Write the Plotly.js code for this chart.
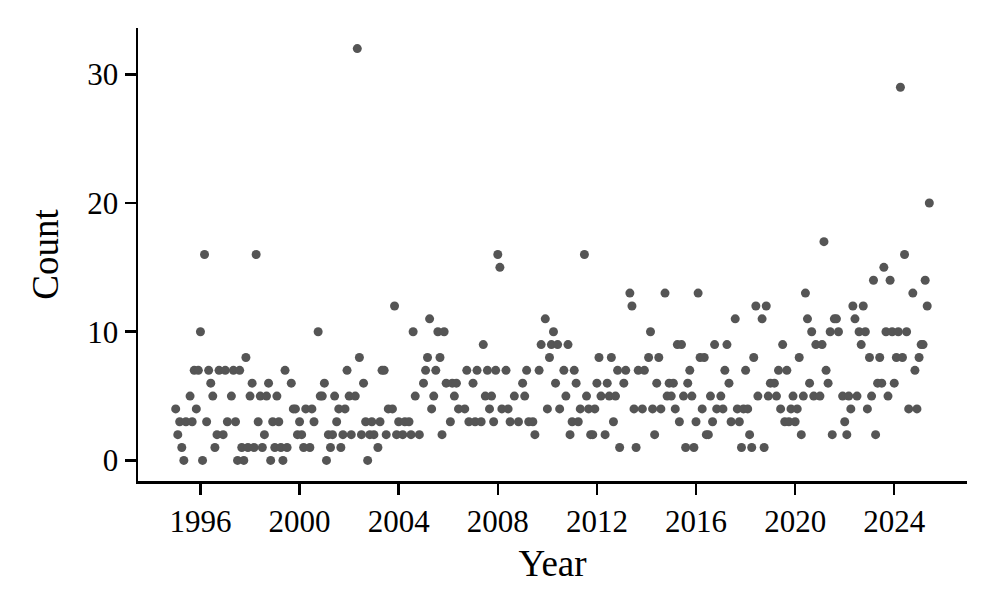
<!DOCTYPE html>
<html>
<head>
<meta charset="utf-8">
<script src="https://cdn.plot.ly/plotly-3.0.1.min.js"></script>
<style>
  html, body { margin: 0; padding: 0; background: #fff; }
  #chart { width: 996px; height: 615px; }
</style>
</head>
<body>
<div id="chart"></div>
<script>
// Monthly counts starting January 1995 (null = month not readable in the picture)
const startYear = 1995;
const counts = [
  4, 2, 3, 1, 0, 3, null, 5, 3, 7, 4, 7,        // 1995
  10, 0, 16, 3, 7, 6, 5, 1, 2, 7, null, 2,      // 1996
  7, 3, null, 5, 7, 3, 0, 7, 1, 0, 8, 1,        // 1997
  5, 6, 1, 16, 3, 5, 1, 2, 5, 6, 0, 3,          // 1998
  1, 5, 3, 1, 0, 7, 1, null, 6, 4, 4, 2,        // 1999
  3, 2, 1, 4, null, 1, 4, 3, null, 10, 5, 5,    // 2000
  6, 0, 2, 1, 2, 5, 3, 4, 1, 2, 4, 7,           // 2001
  5, 2, null, 5, 32, 8, 2, 6, 3, 0, 2, 3,       // 2002
  2, null, 1, 3, 7, 7, 2, 4, null, 4, 12, 2,    // 2003
  3, null, 2, 3, null, 3, 2, 10, 5, null, 2, null, // 2004
  6, 7, 8, 11, 4, 5, 7, 10, 8, 2, 10, 6,        // 2005
  null, 3, 6, 5, 6, 4, null, null, 4, 7, 3, null, // 2006
  6, 3, 7, null, 3, 9, 5, 7, 4, 5, 3, 7,        // 2007
  16, 15, 4, null, 7, 4, 3, null, 5, null, 3, null, // 2008
  6, 5, 7, 3, null, 3, 2, null, 7, 9, null, 11, // 2009
  4, 8, 9, 10, 6, 9, 4, null, 7, 5, 9, 2,       // 2010
  3, 7, 6, 3, 4, null, 16, 5, 4, 2, 2, 4,       // 2011
  6, 8, 5, null, 2, 6, 5, 8, 3, 5, 7, 1,        // 2012
  null, 6, 7, null, 13, 12, 4, 1, 7, null, 4, 7, // 2013
  null, 8, 10, 4, 2, 6, 8, 4, null, 13, 5, 6,   // 2014
  5, 6, 4, 9, 3, 9, 5, 1, 6, 7, 5, 1,           // 2015
  3, 13, 8, 4, 8, 2, 2, 5, 3, 9, 4, null,       // 2016
  5, 4, 7, 9, 6, 3, null, 11, 4, 3, 1, 4,       // 2017
  7, 4, 2, 1, 8, 12, 5, null, 11, 1, 12, 5,     // 2018
  6, null, 6, 5, 7, 4, 9, 3, 7, 3, 4, 5,        // 2019
  3, 4, 8, 2, 5, 13, 11, 6, 10, 5, 9, null,     // 2020
  5, 9, 17, 7, 6, 10, 2, 11, 11, 10, null, 5,   // 2021
  3, 2, 5, 4, 12, 11, 5, 10, 9, 12, 10, 4,      // 2022
  8, 5, 14, 2, 6, 8, 6, 15, 10, 5, 14, 10,      // 2023
  6, 8, 10, 29, 8, 16, 10, 4, null, 13, 7, 4,   // 2024
  8, 9, 9, 14, 12, 20                           // 2025
];
const tickYears = [1996, 2000, 2004, 2008, 2012, 2016, 2020, 2024];
const yTicks = [0, 10, 20, 30];

const months = counts.map((_, i) => {
  const y = startYear + Math.floor(i / 12);
  const m = (i % 12) + 1;
  return y + '-' + String(m).padStart(2, '0') + '-01';
});

const font = 'Liberation Serif, Times New Roman, serif';

const trace = {
  type: 'scatter',
  mode: 'markers',
  x: months,
  y: counts,
  marker: { color: '#555555', size: 9, line: { width: 0 } },
  hoverinfo: 'x+y'
};

const layout = {
  width: 996,
  height: 615,
  margin: { l: 138, r: 29, t: 28, b: 134 },
  paper_bgcolor: '#ffffff',
  plot_bgcolor: '#ffffff',
  showlegend: false,
  font: { family: font, size: 31, color: '#000000' },
  xaxis: {
    type: 'date',
    range: ['1993-06-24 12:00', '2026-12-08 12:00'],
    tickvals: tickYears.map(y => y + '-01-01'),
    ticktext: tickYears.map(String),
    showgrid: false,
    zeroline: false,
    showline: true,
    linecolor: '#000000',
    linewidth: 2.5,
    ticks: 'outside',
    ticklen: 11,
    tickwidth: 2.5,
    tickcolor: '#000000',
    tickfont: { family: font, size: 31, color: '#000000' },
    automargin: false,
    title: { text: 'Year', font: { family: font, size: 37, color: '#000000' }, standoff: 13 }
  },
  yaxis: {
    range: [-1.6, 33.6],
    tickvals: yTicks,
    ticktext: yTicks.map(String),
    showgrid: false,
    zeroline: false,
    showline: true,
    linecolor: '#000000',
    linewidth: 2.5,
    ticks: 'outside',
    ticklen: 11,
    tickwidth: 2.5,
    tickcolor: '#000000',
    tickfont: { family: font, size: 31, color: '#000000' },
    automargin: false,
    title: { text: 'Count', font: { family: font, size: 37, color: '#000000' }, standoff: 18 }
  }
};

Plotly.newPlot('chart', [trace], layout, { displayModeBar: false, staticPlot: true });
</script>
</body>
</html>
